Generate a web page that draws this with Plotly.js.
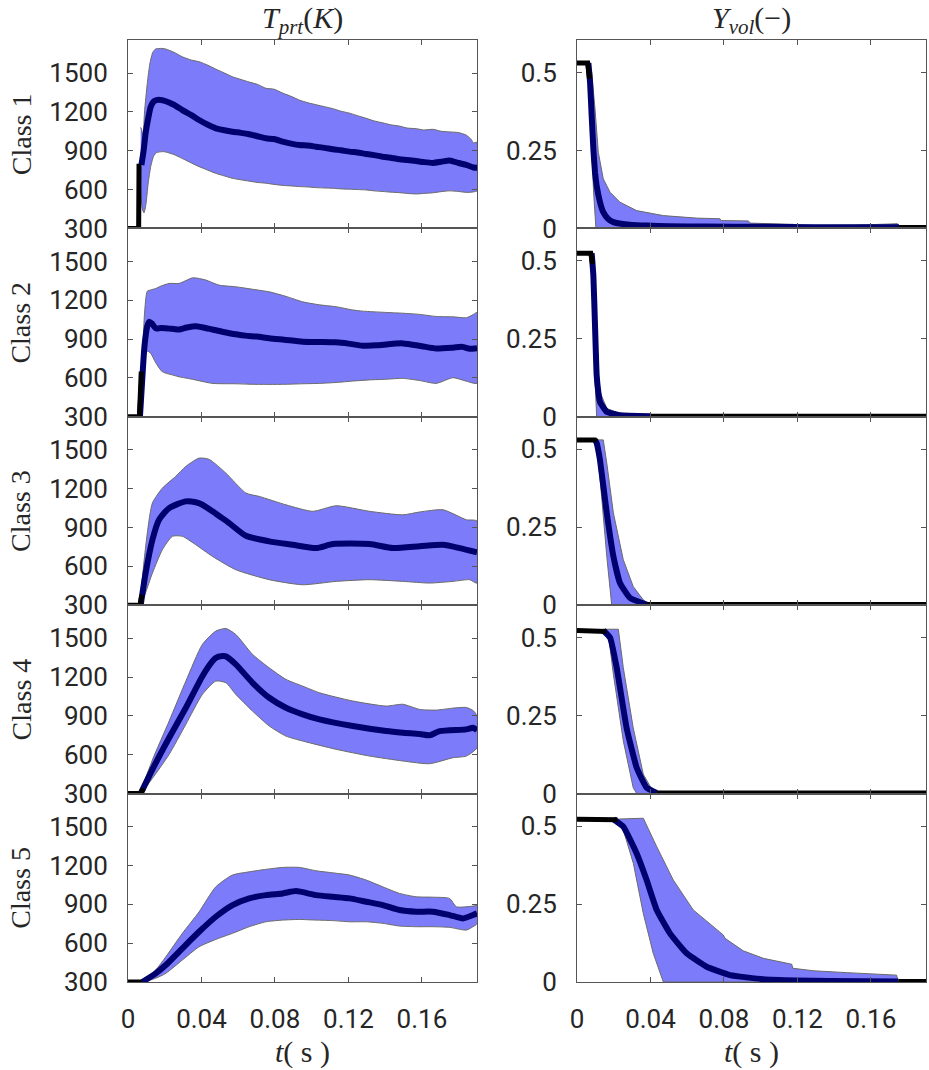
<!DOCTYPE html>
<html><head><meta charset="utf-8">
<script src="https://cdn.plot.ly/plotly-3.0.1.min.js"></script>
<style>body{margin:0;background:#fff}#chart{width:929px;height:1070px}</style>
</head><body><div id="chart"></div>
<script>
// ---------- tick labels / categories ----------
const classNames = ['Class 1','Class 2','Class 3','Class 4','Class 5'];
const tickX = [0, 0.04, 0.08, 0.12, 0.16];
const tickXText = ['0','0.04','0.08','0.12','0.16'];
const tickT = [300, 600, 900, 1200, 1500];
const tickY = [0, 0.25, 0.5];
const tickYText = ['0','0.25','0.5'];

// ---------- Class 1 : T_prt ----------
const c1T_mean_t = [0.0073,0.0085,0.0096,0.011,0.0124,0.014,0.0155,0.0187,0.0206,0.025,0.0296,0.0345,0.0387,0.0435,0.0478,0.0525,0.0569,0.0615,0.066,0.0705,0.0751,0.0795,0.0842,0.0888,0.0933,0.098,0.1024,0.107,0.1115,0.116,0.1206,0.125,0.1297,0.134,0.1387,0.143,0.1478,0.152,0.157,0.161,0.166,0.1705,0.1751,0.18,0.1842,0.188,0.19];
const c1T_mean   = [790,900,1035,1150,1240,1280,1291,1290,1282,1255,1214,1175,1137,1100,1073,1058,1047,1038,1027,1012,996,990,970,955,944,940,931,922,911,903,893,886,875,866,854,845,834,828,820,812,806,815,825,805,790,770,768];
const c1T_up_t = [0.0069,0.0075,0.0082,0.009,0.0105,0.012,0.0135,0.015,0.0185,0.0206,0.025,0.0296,0.0345,0.0387,0.0435,0.0478,0.0525,0.0569,0.0615,0.066,0.0705,0.0751,0.0795,0.0842,0.0888,0.0933,0.098,0.1024,0.107,0.1115,0.116,0.1206,0.125,0.1297,0.134,0.1387,0.143,0.1478,0.152,0.157,0.161,0.166,0.1705,0.1751,0.18,0.1842,0.187,0.188,0.19];
const c1T_up   = [1080,1060,1000,1200,1420,1580,1660,1685,1690,1685,1660,1625,1600,1587,1560,1530,1500,1471,1450,1430,1412,1382,1375,1345,1320,1291,1270,1255,1240,1225,1205,1190,1170,1150,1130,1115,1100,1090,1075,1070,1060,1065,1050,1045,1040,1020,985,960,965];
const c1T_lo_t = [0.0069,0.0078,0.0087,0.0096,0.011,0.0124,0.014,0.0155,0.0187,0.0206,0.025,0.0296,0.0345,0.0387,0.0435,0.0478,0.0525,0.0569,0.0615,0.066,0.0705,0.0751,0.0795,0.0842,0.0888,0.0933,0.098,0.1024,0.107,0.1115,0.116,0.1206,0.125,0.1297,0.134,0.1387,0.143,0.1478,0.152,0.157,0.161,0.166,0.1705,0.1751,0.18,0.1842,0.188,0.19];
const c1T_lo   = [600,450,420,470,650,780,860,885,893,890,870,840,805,777,750,725,705,687,675,665,655,649,640,632,628,623,620,615,612,610,605,603,600,597,590,585,580,576,570,566,570,575,584,590,585,578,582,590];
const c1T_blk_t = [0,0.0058,0.006,0.0073];
const c1T_blk   = [300,300,780,780];

// ---------- Class 1 : Y_vol ----------
const c1Y_mean_t = [0.0062,0.0071,0.008,0.0089,0.0098,0.0107,0.0125,0.0143,0.017,0.0198,0.025,0.03,0.038,0.05,0.07,0.1,0.13,0.16,0.1753];
const c1Y_mean   = [0.53,0.469,0.36,0.255,0.18,0.137,0.085,0.052,0.03,0.02,0.014,0.011,0.009,0.007,0.006,0.005,0.004,0.004,0.004];
const c1Y_up_t = [0.0062,0.008,0.0098,0.0116,0.0143,0.018,0.0234,0.0325,0.047,0.0652,0.0778,0.0785,0.0933,0.0942,0.1178,0.12,0.15,0.1745,0.1753];
const c1Y_up   = [0.53,0.5,0.383,0.244,0.159,0.116,0.084,0.057,0.041,0.033,0.031,0.025,0.024,0.017,0.013,0.009,0.01,0.015,0];
const c1Y_lo_t = [0.0062,0.0075,0.009,0.0103,0.1753];
const c1Y_lo   = [0.53,0.33,0.12,0,0];
const c1Y_blk_t = [0,0.0058,0.0068,null,0.1753,0.19];
const c1Y_blk   = [0.53,0.53,0.48,null,0.003,0.003];

// ---------- Class 2 : T_prt ----------
const c2T_mean_t = [0.0065,0.0078,0.009,0.0105,0.0115,0.013,0.0151,0.018,0.0224,0.025,0.0278,0.032,0.0369,0.041,0.046,0.052,0.0587,0.065,0.07,0.0769,0.085,0.0951,0.105,0.1133,0.12,0.1278,0.135,0.1496,0.16,0.1678,0.1769,0.182,0.186,0.19];
const c2T_mean   = [300,600,850,1000,1034,1020,983,985,981,978,974,990,1000,990,974,955,937,925,920,906,895,880,878,875,865,849,852,867,845,828,834,840,825,830];
const c2T_up_t = [0.0065,0.0078,0.009,0.0105,0.0124,0.0151,0.018,0.0224,0.0278,0.0351,0.038,0.0424,0.0496,0.0587,0.0678,0.0769,0.086,0.0951,0.1042,0.1133,0.1224,0.1278,0.1406,0.1496,0.1588,0.1678,0.1769,0.1842,0.188,0.19];
const c2T_up   = [300,700,1100,1270,1280,1291,1310,1330,1330,1373,1370,1356,1317,1304,1285,1265,1230,1188,1165,1150,1125,1116,1106,1100,1091,1075,1072,1065,1090,1106];
const c2T_lo_t = [0.0065,0.008,0.0095,0.0105,0.0124,0.015,0.0187,0.025,0.0278,0.035,0.046,0.0587,0.0678,0.0769,0.086,0.0951,0.1042,0.1133,0.1224,0.1315,0.1406,0.1496,0.1588,0.1678,0.1769,0.1842,0.19];
const c2T_lo   = [300,600,780,808,790,720,648,620,609,590,558,555,551,550,551,555,558,565,576,585,590,597,580,558,602,575,560];
const c2T_blk_t = [0,0.0062,0.0072];
const c2T_blk   = [300,300,650];

// ---------- Class 2 : Y_vol ----------
const c2Y_mean_t = [0.008,0.0089,0.0098,0.0107,0.0116,0.0125,0.0162,0.0234,0.04];
const c2Y_mean   = [0.524,0.454,0.294,0.134,0.08,0.048,0.016,0.005,0.002];
const c2Y_up_t = [0.008,0.0089,0.0098,0.0107,0.0116,0.0125,0.0162,0.0234,0.0397,0.04];
const c2Y_up   = [0.524,0.49,0.35,0.2,0.134,0.08,0.027,0.01,0.002,0];
const c2Y_lo_t = [0.008,0.0089,0.0098,0.0107,0.04];
const c2Y_lo   = [0.524,0.35,0.12,0,0];
const c2Y_blk_t = [0,0.0075,0.0085,null,0.04,0.19];
const c2Y_blk   = [0.524,0.524,0.49,null,0.002,0.002];

// ---------- Class 3 : T_prt ----------
const c3T_mean_t = [0.0069,0.0096,0.0133,0.0169,0.0224,0.0315,0.0369,0.04,0.046,0.05,0.0551,0.0642,0.0769,0.0896,0.1024,0.1115,0.1315,0.1442,0.1588,0.1715,0.1806,0.19];
const c3T_mean   = [300,548,805,960,1050,1102,1095,1080,1025,985,934,836,793,767,741,772,772,741,755,767,741,708];
const c3T_up_t = [0.0069,0.0096,0.0133,0.0187,0.026,0.0315,0.0387,0.0442,0.0533,0.0642,0.0715,0.086,0.1006,0.1133,0.1315,0.1496,0.1588,0.1715,0.1842,0.19];
const c3T_up   = [300,750,1089,1204,1295,1372,1436,1426,1320,1166,1140,1075,1025,1068,1025,998,1020,1037,960,950];
const c3T_lo_t = [0.0069,0.0133,0.0187,0.0242,0.0296,0.0369,0.046,0.0587,0.0769,0.0951,0.1133,0.1315,0.1496,0.1642,0.1769,0.186,0.19];
const c3T_lo   = [300,548,728,832,832,767,677,574,497,458,484,497,484,471,484,497,471];
const c3T_blk_t = [0,0.0066,0.0075];
const c3T_blk   = [300,300,380];

// ---------- Class 3 : Y_vol ----------
const c3Y_mean_t = [0.0098,0.0107,0.0125,0.0162,0.0198,0.0234,0.0289,0.0379];
const c3Y_mean   = [0.53,0.52,0.466,0.296,0.157,0.071,0.023,0.002];
const c3Y_up_t = [0.0098,0.0143,0.0162,0.0198,0.0252,0.0306,0.0361,0.0397];
const c3Y_up   = [0.53,0.53,0.456,0.296,0.146,0.06,0.017,0];
const c3Y_lo_t = [0.0098,0.0107,0.0134,0.0162,0.0189,0.0397];
const c3Y_lo   = [0.53,0.52,0.349,0.157,0,0];
const c3Y_blk_t = [0,0.0098,0.0105,null,0.0379,0.19];
const c3Y_blk   = [0.53,0.53,0.525,null,0.002,0.002];

// ---------- Class 4 : T_prt ----------
const c4T_mean_t = [0.0069,0.0133,0.0224,0.0315,0.0405,0.046,0.0478,0.0514,0.0533,0.0587,0.0678,0.0769,0.086,0.0951,0.1042,0.1224,0.1406,0.1496,0.1588,0.1642,0.1697,0.1842,0.1878,0.19];
const c4T_mean   = [300,487,731,963,1207,1323,1349,1362,1360,1298,1156,1040,963,912,873,822,783,770,760,750,782,796,808,790];
const c4T_up_t = [0.0069,0.0133,0.0224,0.0315,0.0405,0.0478,0.0533,0.0587,0.0678,0.0769,0.086,0.0951,0.1042,0.1224,0.1406,0.1496,0.1588,0.1679,0.1769,0.1842,0.188,0.19];
const c4T_up   = [300,560,860,1169,1452,1555,1575,1529,1375,1271,1182,1130,1079,1015,976,990,950,945,960,965,940,899];
const c4T_lo_t = [0.0069,0.0133,0.0224,0.0315,0.0405,0.0478,0.0533,0.0587,0.0678,0.0769,0.086,0.0951,0.1133,0.1315,0.1496,0.1642,0.1769,0.1842,0.19];
const c4T_lo   = [300,418,603,835,1066,1169,1156,1066,937,822,744,706,642,590,552,531,577,590,654];
const c4T_blk_t = [0,0.0066,0.0085];
const c4T_blk   = [300,300,340];

// ---------- Class 4 : Y_vol ----------
const c4Y_mean_t = [0.0143,0.018,0.0216,0.027,0.0325,0.0379,0.0434];
const c4Y_mean   = [0.523,0.5,0.404,0.211,0.083,0.019,0.002];
const c4Y_up_t = [0.0143,0.0225,0.0252,0.0306,0.0361,0.0407,0.0434];
const c4Y_up   = [0.527,0.527,0.404,0.211,0.062,0.014,0];
const c4Y_lo_t = [0.0143,0.0171,0.0198,0.0252,0.0306,0.0325,0.0434];
const c4Y_lo   = [0.523,0.51,0.383,0.169,0.019,0,0];
const c4Y_blk_t = [0,0.0143,0.016,null,0.0434,0.19];
const c4Y_blk   = [0.523,0.523,0.52,null,0.002,0.002];

// ---------- Class 5 : T_prt ----------
const c5T_mean_t = [0.0078,0.0151,0.0206,0.0296,0.0387,0.0478,0.0569,0.066,0.0751,0.0842,0.0915,0.1024,0.1115,0.1206,0.1297,0.1387,0.1478,0.157,0.166,0.1751,0.1824,0.1878,0.19];
const c5T_mean   = [300,367,431,560,688,804,894,946,971,984,1002,971,958,946,920,894,856,843,843,817,791,817,830];
const c5T_up_t = [0.0078,0.0151,0.0206,0.0296,0.0387,0.0478,0.0569,0.066,0.0751,0.0842,0.0933,0.1024,0.1115,0.1206,0.1297,0.1387,0.1478,0.157,0.166,0.1751,0.1788,0.1878,0.19];
const c5T_up   = [300,393,495,676,842,1035,1126,1151,1170,1185,1185,1159,1143,1126,1087,1035,984,958,955,945,881,886,890];
const c5T_lo_t = [0.0078,0.0151,0.0206,0.0296,0.0387,0.0478,0.0569,0.066,0.0751,0.0842,0.0933,0.1024,0.1115,0.1206,0.1297,0.1387,0.1478,0.157,0.166,0.1751,0.1842,0.1878,0.19];
const c5T_lo   = [300,329,367,470,572,629,676,727,765,778,783,778,774,765,765,753,732,727,727,722,701,727,750];
const c5T_blk_t = [0,0.0078];
const c5T_blk   = [300,300];

// ---------- Class 5 : Y_vol ----------
const c5Y_mean_t = [0.0198,0.0252,0.0325,0.0379,0.0434,0.0506,0.0597,0.0706,0.0833,0.1014,0.1196,0.1377,0.1749];
const c5Y_mean   = [0.522,0.498,0.412,0.327,0.231,0.156,0.092,0.049,0.022,0.009,0.005,0.003,0.002];
const c5Y_up_t = [0.0198,0.0361,0.0434,0.0524,0.0633,0.0742,0.0796,0.0806,0.0869,0.0905,0.1014,0.1169,0.1175,0.1287,0.1468,0.174,0.1749];
const c5Y_up   = [0.522,0.525,0.434,0.327,0.231,0.177,0.151,0.14,0.113,0.1,0.076,0.057,0.044,0.036,0.03,0.022,0];
const c5Y_lo_t = [0.0198,0.0216,0.0252,0.0307,0.0361,0.0415,0.047,0.1749];
const c5Y_lo   = [0.522,0.522,0.487,0.38,0.22,0.092,0,0];
const c5Y_blk_t = [0,0.0198,0.022,null,0.1749,0.19];
const c5Y_blk   = [0.522,0.522,0.52,null,0.002,0.002];

// ---------- assemble ----------
const panelsT = [
  [c1T_mean_t,c1T_mean,c1T_up_t,c1T_up,c1T_lo_t,c1T_lo,c1T_blk_t,c1T_blk],
  [c2T_mean_t,c2T_mean,c2T_up_t,c2T_up,c2T_lo_t,c2T_lo,c2T_blk_t,c2T_blk],
  [c3T_mean_t,c3T_mean,c3T_up_t,c3T_up,c3T_lo_t,c3T_lo,c3T_blk_t,c3T_blk],
  [c4T_mean_t,c4T_mean,c4T_up_t,c4T_up,c4T_lo_t,c4T_lo,c4T_blk_t,c4T_blk],
  [c5T_mean_t,c5T_mean,c5T_up_t,c5T_up,c5T_lo_t,c5T_lo,c5T_blk_t,c5T_blk]
];
const panelsY = [
  [c1Y_mean_t,c1Y_mean,c1Y_up_t,c1Y_up,c1Y_lo_t,c1Y_lo,c1Y_blk_t,c1Y_blk],
  [c2Y_mean_t,c2Y_mean,c2Y_up_t,c2Y_up,c2Y_lo_t,c2Y_lo,c2Y_blk_t,c2Y_blk],
  [c3Y_mean_t,c3Y_mean,c3Y_up_t,c3Y_up,c3Y_lo_t,c3Y_lo,c3Y_blk_t,c3Y_blk],
  [c4Y_mean_t,c4Y_mean,c4Y_up_t,c4Y_up,c4Y_lo_t,c4Y_lo,c4Y_blk_t,c4Y_blk],
  [c5Y_mean_t,c5Y_mean,c5Y_up_t,c5Y_up,c5Y_lo_t,c5Y_lo,c5Y_blk_t,c5Y_blk]
];

const W = 929, H = 1070;
const colPx = [[128, 477], [577, 926]];
const rowTop = 40, rowH = 188.4;
const bandColor = 'rgb(124,124,250)';
const meanColor = '#00006e';
const axisColor = '#555';
const tickFont = {family: 'Roboto, sans-serif', size: 26, color: '#262626'};
const serif = 'Liberation Serif, DejaVu Serif, serif';

const traces = [];
const layout = {
  width: W, height: H, autosize: false,
  margin: {l: 0, r: 0, t: 0, b: 0},
  paper_bgcolor: '#fff', plot_bgcolor: '#fff',
  showlegend: false, annotations: []
};

function addPanel(idx, col, row, p) {
  const xa = 'x' + idx, ya = 'y' + idx;
  const [mt, mv, ut, uv, lt, lv, bt, bv] = p;
  const polyX = ut.concat(lt.slice().reverse());
  const polyY = uv.concat(lv.slice().reverse());
  const bandShape = col === 0 ? {shape: 'spline', smoothing: 0.6} : {shape: 'linear'};
  const meanShape = col === 0 ? {shape: 'spline', smoothing: 0.6} : {shape: 'spline', smoothing: 0.4};
  traces.push({x: polyX, y: polyY, xaxis: xa, yaxis: ya, type: 'scatter', mode: 'lines',
    fill: 'toself', fillcolor: bandColor,
    line: Object.assign({color: '#6a6a6a', width: 1}, bandShape), hoverinfo: 'skip'});
  traces.push({x: mt, y: mv, xaxis: xa, yaxis: ya, type: 'scatter', mode: 'lines',
    line: Object.assign({color: meanColor, width: 6}, meanShape)});
  traces.push({x: bt, y: bv, xaxis: xa, yaxis: ya, type: 'scatter', mode: 'lines',
    connectgaps: false, line: {color: '#000', width: 5}});

  const top = rowTop + rowH * row, bot = top + rowH;
  const common = {showline: true, linecolor: axisColor, linewidth: 1, mirror: 'ticks',
    ticks: 'inside', ticklen: 5, tickcolor: axisColor, showgrid: false, zeroline: false,
    tickfont: tickFont, fixedrange: true};
  layout['xaxis' + idx] = Object.assign({}, common, {
    domain: [colPx[col][0] / W, colPx[col][1] / W], anchor: ya,
    range: [0, 0.19], tickvals: tickX, ticktext: tickXText,
    showticklabels: row === 4, ticklabelstandoff: 14
  });
  layout['yaxis' + idx] = Object.assign({}, common, {
    domain: [(H - bot) / H, (H - top) / H], anchor: xa,
    range: col === 0 ? [300, 1755] : [0, 0.604],
    tickvals: col === 0 ? tickT : tickY,
    ticktext: col === 0 ? tickT.map(String) : tickYText,
    ticklabelstandoff: 14
  });
  if (col === 0) {
    layout.annotations.push({text: classNames[row], xref: 'paper', yref: 'paper',
      x: 21 / W, y: (H - (top + bot) / 2) / H, xanchor: 'center', yanchor: 'middle',
      textangle: -90, showarrow: false, font: {family: serif, size: 28, color: '#262626'}});
  }
}

for (let r = 0; r < 5; r++) {
  addPanel(2 * r + 1, 0, r, panelsT[r]);
  addPanel(2 * r + 2, 1, r, panelsY[r]);
}

const titleFont = {family: serif, size: 30, color: '#262626'};
layout.annotations.push(
  {text: '<i>T</i><sub><i>prt</i></sub>(<i>K</i>)', xref: 'paper', yref: 'paper',
   x: 302 / W, y: (H - 20) / H, xanchor: 'center', yanchor: 'middle', showarrow: false, font: titleFont},
  {text: '<i>Y</i><sub><i>vol</i></sub>(−)', xref: 'paper', yref: 'paper',
   x: 751 / W, y: (H - 20) / H, xanchor: 'center', yanchor: 'middle', showarrow: false, font: titleFont},
  {text: '<i>t</i>( s )', xref: 'paper', yref: 'paper',
   x: 302 / W, y: (H - 1052) / H, xanchor: 'center', yanchor: 'middle', showarrow: false, font: titleFont},
  {text: '<i>t</i>( s )', xref: 'paper', yref: 'paper',
   x: 751 / W, y: (H - 1052) / H, xanchor: 'center', yanchor: 'middle', showarrow: false, font: titleFont}
);

Plotly.newPlot('chart', traces, layout, {staticPlot: true, displayModeBar: false});
</script>
</body></html>
